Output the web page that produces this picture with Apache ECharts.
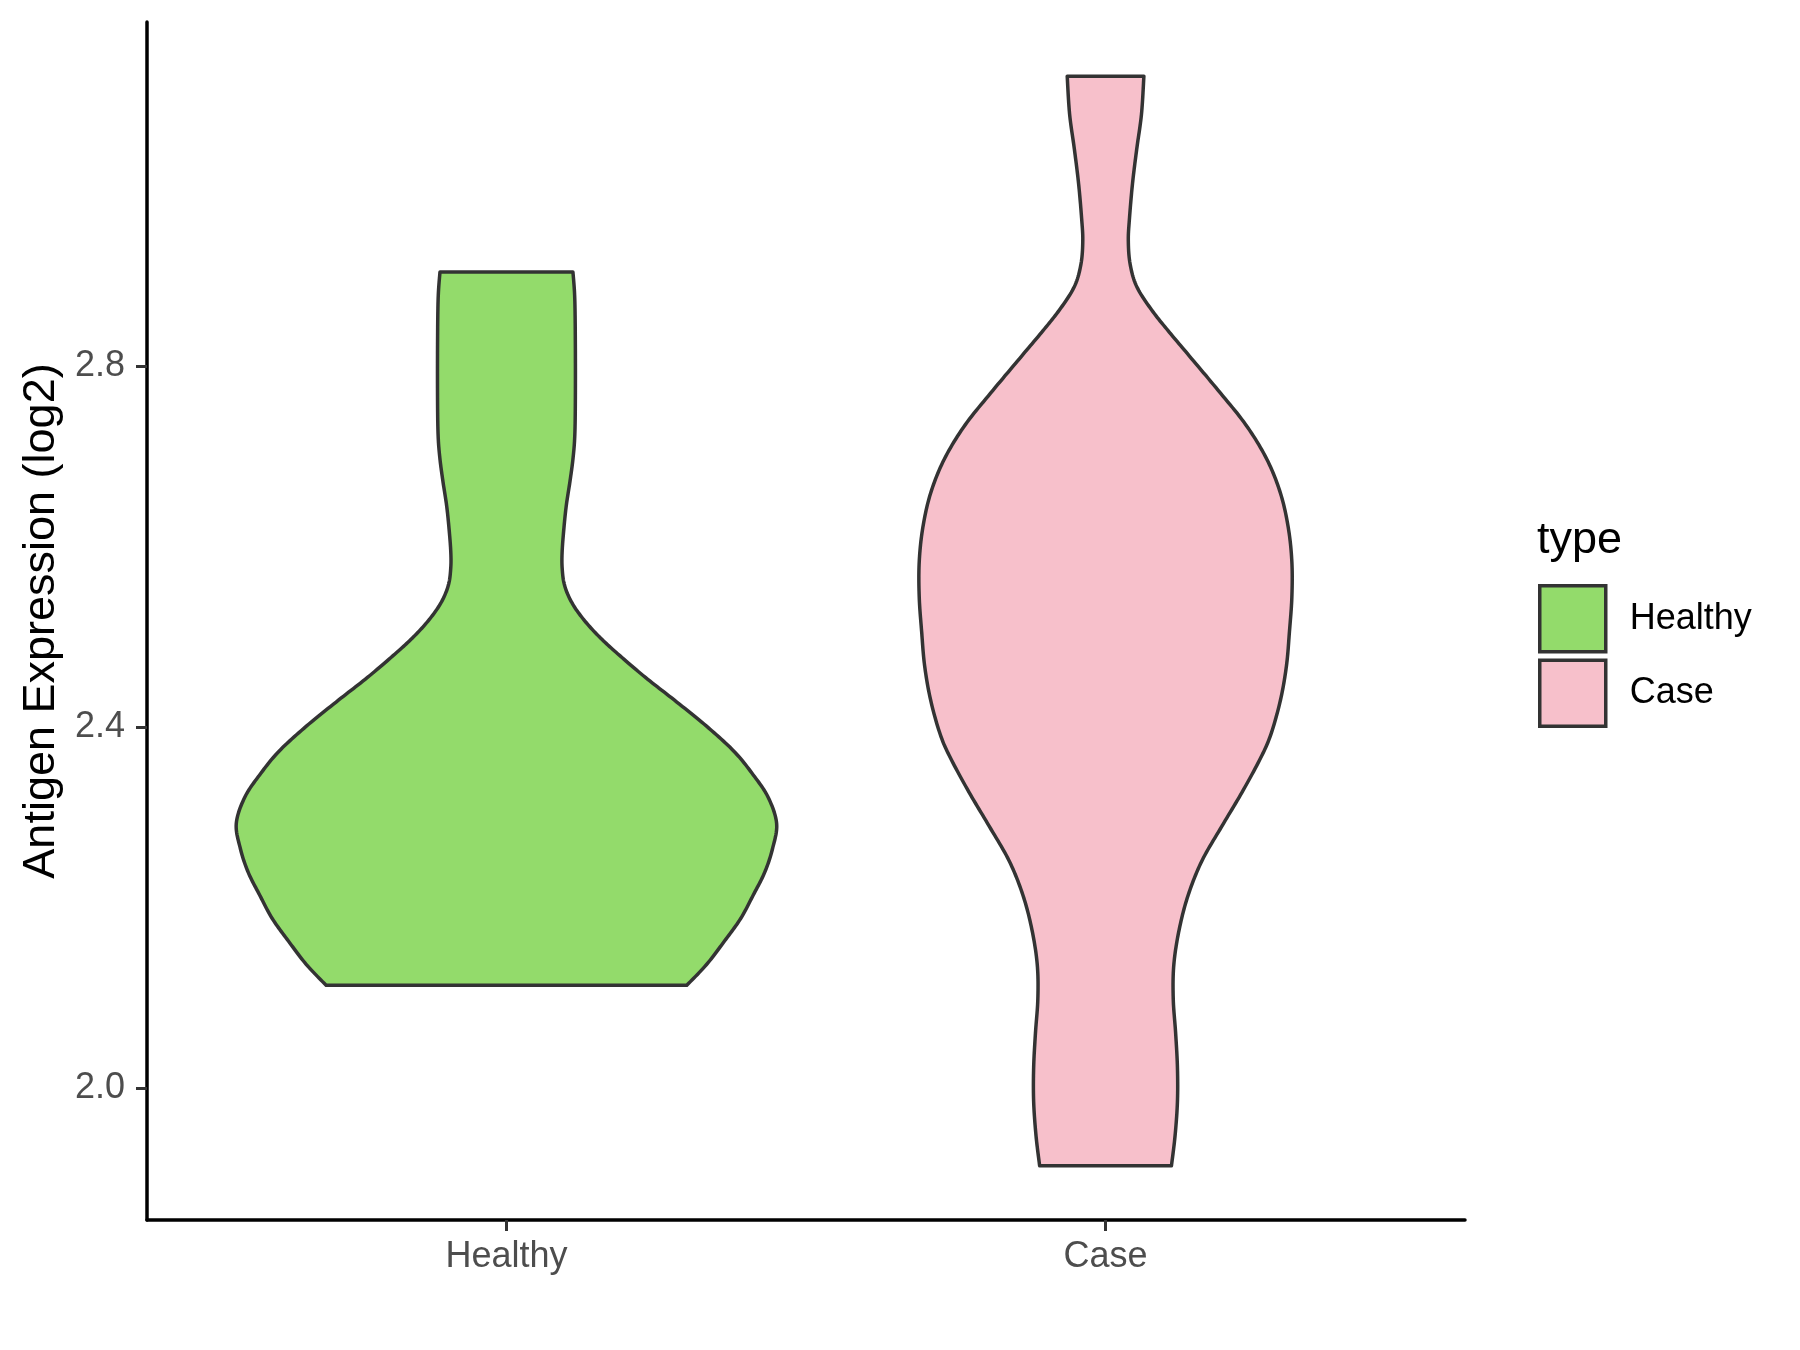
<!DOCTYPE html>
<html>
<head>
<meta charset="utf-8">
<script src="https://cdn.jsdelivr.net/npm/echarts@6/dist/echarts.min.js"></script>
<style>
  html, body { margin: 0; padding: 0; background: #ffffff; }
  #chart { width: 1800px; height: 1350px; }
</style>
</head>
<body>
<div id="chart"></div>
<script>
// ---- data ----
const categories = ['Healthy', 'Case'];
const legendTitle = 'type';
const yAxisTitle = 'Antigen Expression (log2)';
const yTickValues = [2.0, 2.4, 2.8];

// Healthy violin: expression levels (top to bottom) and half-widths (density, in category units)
const healthyLevels = [2.904, 2.875, 2.824, 2.761, 2.722, 2.697, 2.672, 2.646, 2.621, 2.595,
  2.576, 2.557, 2.538, 2.519, 2.500, 2.481, 2.455, 2.430, 2.401, 2.373,
  2.347, 2.322, 2.293, 2.265, 2.239, 2.214, 2.188, 2.163, 2.137, 2.114];
const healthyHalfWidth = [0.111, 0.114, 0.115, 0.115, 0.114, 0.111, 0.106, 0.100, 0.096, 0.093,
  0.093, 0.097, 0.109, 0.129, 0.155, 0.186, 0.232, 0.280, 0.334, 0.380,
  0.412, 0.437, 0.451, 0.444, 0.431, 0.412, 0.391, 0.364, 0.334, 0.301];

// Case violin
const caseLevels = [3.121, 3.079, 3.040, 3.002, 2.964, 2.939, 2.913, 2.888, 2.862, 2.837,
  2.811, 2.773, 2.735, 2.697, 2.659, 2.621, 2.583, 2.544, 2.506, 2.468,
  2.430, 2.392, 2.366, 2.328, 2.290, 2.252, 2.214, 2.176, 2.137, 2.099,
  2.061, 2.023, 1.985, 1.947, 1.914];
const caseHalfWidth = [0.064, 0.060, 0.052, 0.045, 0.040, 0.038, 0.041, 0.052, 0.077, 0.107,
  0.140, 0.188, 0.234, 0.269, 0.292, 0.305, 0.311, 0.311, 0.307, 0.302,
  0.292, 0.276, 0.259, 0.228, 0.194, 0.161, 0.138, 0.123, 0.114, 0.113,
  0.117, 0.120, 0.120, 0.116, 0.110];

const colors = { Healthy: '#93DB6B', Case: '#F7C0CB' };
const FONT = '"Liberation Sans", Arial, Helvetica, sans-serif';

// ---- drawing helpers (pixel-space smoothing of the outline) ----
function catmull(pts, samples) {
  const out = [];
  const n = pts.length;
  for (let i = 0; i < n - 1; i++) {
    const p0 = pts[Math.max(0, i - 1)], p1 = pts[i], p2 = pts[i + 1], p3 = pts[Math.min(n - 1, i + 2)];
    const c1 = [p1[0] + (p2[0] - p0[0]) / 6, p1[1] + (p2[1] - p0[1]) / 6];
    const c2 = [p2[0] - (p3[0] - p1[0]) / 6, p2[1] - (p3[1] - p1[1]) / 6];
    for (let s = 0; s < samples; s++) {
      const t = s / samples, u = 1 - t;
      out.push([
        u*u*u*p1[0] + 3*u*u*t*c1[0] + 3*u*t*t*c2[0] + t*t*t*p2[0],
        u*u*u*p1[1] + 3*u*u*t*c1[1] + 3*u*t*t*c2[1] + t*t*t*p2[1]
      ]);
    }
  }
  out.push(pts[n - 1]);
  return out;
}

function violinSeries(name, pos, levels, halfWidth) {
  return {
    type: 'custom',
    name: name,
    coordinateSystem: 'cartesian2d',
    data: [[pos, levels[0]]],
    itemStyle: { color: colors[name] },
    silent: true,
    renderItem: function (params, api) {
      const leftPts = levels.map((y, i) => api.coord([pos - halfWidth[i], y]));
      const rightPts = levels.map((y, i) => api.coord([pos + halfWidth[i], y]));
      const left = catmull(leftPts, 12);            // top -> bottom
      const right = catmull(rightPts, 12).reverse(); // bottom -> top
      const points = left.concat(right);
      return {
        type: 'polygon',
        shape: { points: points },
        style: { fill: colors[name], stroke: '#333333', lineWidth: 3.5, lineJoin: 'round' }
      };
    }
  };
}

const chart = echarts.init(document.getElementById('chart'), null, { renderer: 'canvas' });

const option = {
  backgroundColor: '#ffffff',
  animation: false,
  grid: { left: 147, right: 335, top: 22, bottom: 130, containLabel: false },
  xAxis: {
    type: 'value',
    min: 0.4,
    max: 2.6,
    splitLine: { show: false },
    axisLine: { show: true, onZero: false, lineStyle: { color: '#000000', width: 3.5 } },
    axisTick: { show: true, customValues: [1, 2], length: 11, lineStyle: { color: '#333333', width: 3 } },
    axisLabel: {
      show: true, customValues: [1, 2], margin: 19,
      formatter: v => categories[Math.round(v) - 1],
      fontSize: 36, color: '#4D4D4D', fontFamily: FONT
    }
  },
  yAxis: {
    type: 'value',
    min: 1.854,
    max: 3.181,
    name: yAxisTitle,
    nameLocation: 'middle',
    nameGap: 82,
    nameTextStyle: { fontSize: 45, color: '#000000', fontFamily: FONT },
    splitLine: { show: false },
    axisLine: { show: true, onZero: false, lineStyle: { color: '#000000', width: 3.5 } },
    axisTick: { show: true, customValues: yTickValues, length: 11, lineStyle: { color: '#333333', width: 3 } },
    axisLabel: {
      show: true, customValues: yTickValues, margin: 22,
      formatter: v => v.toFixed(1),
      fontSize: 36, color: '#4D4D4D', fontFamily: FONT
    }
  },
  legend: {
    orient: 'vertical',
    left: 1538,
    top: 584,
    padding: 0,
    itemWidth: 66,
    itemHeight: 66,
    itemGap: 5,
    icon: 'rect',
    selectedMode: false,
    data: categories.map(c => ({
      name: c,
      icon: 'rect',
      itemStyle: { color: colors[c], borderColor: '#333333', borderWidth: 3.5 }
    })),
    textStyle: { fontSize: 36, color: '#000000', fontFamily: FONT, padding: [0, 0, 0, 19] }
  },
  graphic: [{
    type: 'text',
    left: 1537,
    top: 518,
    style: { text: legendTitle, fontSize: 45, fill: '#000000', fontFamily: FONT }
  }],
  series: [
    violinSeries('Healthy', 1, healthyLevels, healthyHalfWidth),
    violinSeries('Case', 2, caseLevels, caseHalfWidth)
  ]
};

chart.setOption(option);
</script>
</body>
</html>
